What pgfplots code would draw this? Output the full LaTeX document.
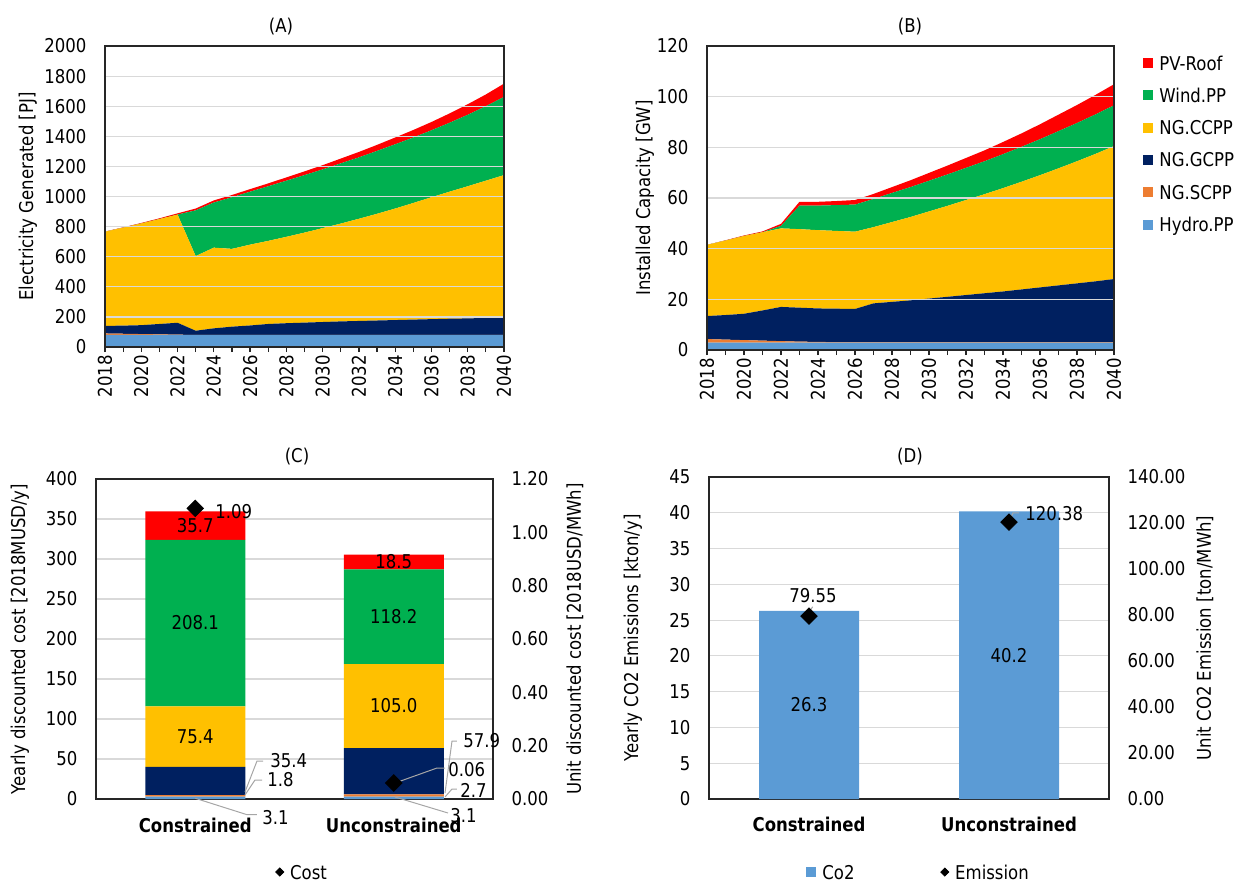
\documentclass[border=0pt]{standalone}
\usepackage{fontspec}
\setmainfont{DejaVu Sans}[FakeStretch=0.87]
\usepackage{pgfplots}
\usepackage{pgfplotstable}
\pgfplotsset{compat=1.18}
\definecolor{hydro}{HTML}{5B9BD5}
\definecolor{scpp}{HTML}{ED7D31}
\definecolor{gcpp}{HTML}{002060}
\definecolor{ccpp}{HTML}{FFC000}
\definecolor{wind}{HTML}{00B050}
\definecolor{pv}{HTML}{FF0000}
\definecolor{gridc}{HTML}{D9D9D9}
\definecolor{leaderc}{HTML}{A6A6A6}
\newcommand\fsz{\fontsize{9.5pt}{11pt}\selectfont}

\pgfplotstableread{
year hydro scpp gcpp ccpp wind pv
2018 80 10 50 626 0 1
2019 80 8 54 651 0 2
2020 80 6 59 676 0 3
2021 80 4 69 697 0 5
2022 80 2 79 719 0 8
2023 80 0 28 496 304 12
2024 80 0 44 536 300 14
2025 80 0 55 517 343 15
2026 80 0 63 537 352 17
2027 80 0 73 552 363 19
2028 80 0 78 574 373 22
2029 80 0 82 598 382 25
2030 80 0 86 624 390 28
2031 80 0 90 650 400 32
2032 80 0 93 679 408 36
2033 80 0 96 709 418 40
2034 80 0 99 741 427 45
2035 80 0 102 775 435 50
2036 80 0 105 810 445 55
2037 80 0 108 844 458 62
2038 80 0 110 878 475 70
2039 80 0 113 912 495 78
2040 80 0 115 947 520 88
}\dataA

\pgfplotstableread{
year hydro scpp gcpp ccpp wind pv
2018 2.9 1.4 9.1 28.1 0 0
2019 2.9 1.2 9.7 29.4 0 0.1
2020 2.9 1.0 10.4 30.7 0 0.2
2021 2.9 0.8 11.9 30.9 0 0.3
2022 2.9 0.6 13.5 31.0 1.0 0.8
2023 2.9 0.4 13.4 31.0 9.3 1.5
2024 2.9 0.3 13.2 30.9 9.7 1.5
2025 2.9 0.2 13.2 30.7 10.2 1.6
2026 2.9 0.2 13.1 30.5 10.7 1.8
2027 2.9 0.2 15.3 30.1 11.1 2.0
2028 2.9 0.2 15.9 31.5 11.5 2.3
2029 2.9 0.2 16.5 32.9 11.8 2.7
2030 2.9 0.2 17.2 34.4 12.1 3.1
2031 2.9 0.2 17.9 35.9 12.4 3.5
2032 2.9 0.2 18.6 37.5 12.7 3.9
2033 2.9 0.2 19.3 39.1 13.0 4.3
2034 2.9 0.2 20.0 40.8 13.4 4.8
2035 2.9 0.2 20.8 42.5 13.8 5.3
2036 2.9 0.2 21.6 44.3 14.2 5.9
2037 2.9 0.2 22.4 46.2 14.7 6.5
2038 2.9 0.2 23.2 48.2 15.1 7.1
2039 2.9 0.2 24.0 50.3 15.6 7.7
2040 2.9 0.2 24.9 52.5 16.1 8.3
}\dataB

\tikzset{
  lbl/.style={font=\fsz, inner sep=0pt},
  leader/.style={draw=leaderc, line width=0.5pt},
}
\pgfplotsset{
  base/.style={
    scale only axis, anchor=south west,
    axis line style={black!85, line width=0.7pt},
    tick style={black!85, line width=0.6pt},
    tick align=outside,
    major tick length=2.5pt, minor tick length=2.5pt,
    ymajorgrids, grid style={gridc, line width=0.6pt},
    ytick style={draw=none},
    tick label style={font=\fsz},
    /pgf/number format/assume math mode=true,
    /pgf/number format/1000 sep={},
    xtick pos=bottom, ytick pos=left,
    clip=false,
  },
  years/.style={
    xmin=2018, xmax=2040, xtick={2018,2020,...,2040}, minor xtick={2019,2021,...,2039},
    x tick label style={rotate=90, anchor=east, inner sep=1.5pt},
    stack plots=y, area style, enlarge x limits=false,
  },
  sqleg/.style={legend image code/.code={\fill[##1] (0pt,-2.5pt) rectangle (5pt,2.5pt);}},
  dmleg/.style={legend image code/.code={\fill[black] (0pt,0pt) -- (2pt,2pt) -- (4pt,0pt) -- (2pt,-2pt) -- cycle;}},
  botleg/.style={legend style={draw=none, fill=none, at={(0,0)}, anchor=west, xshift=#1, yshift=-36.5pt,
      inner sep=0pt, nodes={inner sep=0pt, text height=7pt, text depth=0pt, font=\fsz},
      /tikz/every odd column/.append style={column sep=3pt}}},
}

\begin{document}
\begin{tikzpicture}
\path[use as bounding box] (0,0) rectangle (618.5pt,-441pt);
\node[font=\fsz] at (140.5pt,-13.5pt) {(A)};
\node[font=\fsz] at (455pt,-13.5pt) {(B)};
\node[font=\fsz] at (148.5pt,-228.5pt) {(C)};
\node[font=\fsz] at (455pt,-228.5pt) {(D)};
\node[rotate=90,font=\fsz] at (14pt,-98.25pt) {Electricity Generated [PJ]};
\node[rotate=90,font=\fsz] at (322.5pt,-99pt) {Installed Capacity [GW]};
\node[rotate=90,font=\fsz] at (10pt,-319.5pt) {Yearly discounted cost [2018MUSD/y]};
\node[rotate=90,font=\fsz] at (287.5pt,-319.5pt) {Unit discounted cost [2018USD/MWh]};
\node[rotate=90,font=\fsz] at (316.5pt,-319pt) {Yearly CO2 Emissions [kton/y]};
\node[rotate=90,font=\fsz] at (602.5pt,-319pt) {Unit CO2 Emission [ton/MWh]};

% ---------- (A)
\begin{axis}[base, years, at={(52.5pt,-173.5pt)}, width=199.5pt, height=150.5pt,
  ymin=0, ymax=2000, ytick={0,200,...,2000}, yticklabel style={xshift=-3.3pt}]
\addplot[fill=hydro,draw=none] table[x=year,y=hydro]{\dataA} \closedcycle;
\addplot[fill=scpp,draw=none] table[x=year,y=scpp]{\dataA} \closedcycle;
\addplot[fill=gcpp,draw=none] table[x=year,y=gcpp]{\dataA} \closedcycle;
\addplot[fill=ccpp,draw=none] table[x=year,y=ccpp]{\dataA} \closedcycle;
\addplot[fill=wind,draw=none] table[x=year,y=wind]{\dataA} \closedcycle;
\addplot[fill=pv,draw=none] table[x=year,y=pv]{\dataA} \closedcycle;
\end{axis}

% ---------- (B)
\begin{axis}[base, years, sqleg, at={(353.5pt,-175pt)}, width=203.5pt, height=152pt,
  ymin=0, ymax=120, ytick={0,20,...,120}, yticklabel style={xshift=-3.3pt},
  reverse legend, legend cell align=left,
  legend style={draw=none, fill=none, at={(1,1)}, anchor=north west, xshift=14.5pt, yshift=-4.85pt,
    row sep=9.15pt, inner sep=0pt, nodes={inner sep=0pt, text height=7pt, text depth=0pt, font=\fsz},
    /tikz/every odd column/.append style={column sep=3pt}}]
\addplot[fill=hydro,draw=none] table[x=year,y=hydro]{\dataB} \closedcycle;
\addlegendentry{Hydro.PP}
\addplot[fill=scpp,draw=none] table[x=year,y=scpp]{\dataB} \closedcycle;
\addlegendentry{NG.SCPP}
\addplot[fill=gcpp,draw=none] table[x=year,y=gcpp]{\dataB} \closedcycle;
\addlegendentry{NG.GCPP}
\addplot[fill=ccpp,draw=none] table[x=year,y=ccpp]{\dataB} \closedcycle;
\addlegendentry{NG.CCPP}
\addplot[fill=wind,draw=none] table[x=year,y=wind]{\dataB} \closedcycle;
\addlegendentry{Wind.PP}
\addplot[fill=pv,draw=none] table[x=year,y=pv]{\dataB} \closedcycle;
\addlegendentry{PV-Roof}
\end{axis}

% ---------- (C) left
\begin{axis}[base, at={(48pt,-399.5pt)}, width=198.5pt, height=160pt,
  ybar stacked, bar width=50pt, xmin=-0.5, xmax=1.5,
  xtick={0,1}, xticklabels={\textbf{Constrained},\textbf{Unconstrained}},
  xtick style={draw=none}, x tick label style={yshift=-3.5pt},
  ymin=0, ymax=400, ytick={0,50,...,400}, yticklabel style={xshift=-3.3pt}]
\addplot[fill=hydro,draw=none] coordinates {(0,3.1) (1,3.1)};
\addplot[fill=scpp,draw=none] coordinates {(0,1.8) (1,2.7)};
\addplot[fill=gcpp,draw=none] coordinates {(0,35.4) (1,57.9)};
\addplot[fill=ccpp,draw=none] coordinates {(0,75.4) (1,105.0)};
\addplot[fill=wind,draw=none] coordinates {(0,208.1) (1,118.2)};
\addplot[fill=pv,draw=none] coordinates {(0,35.7) (1,18.5)};
\end{axis}

% ---------- (C) right
\begin{axis}[base, dmleg, botleg=89.5pt, at={(48pt,-399.5pt)}, width=198.5pt, height=160pt,
  xmin=-0.5, xmax=1.5, ymin=0, ymax=1.2, ytick={0,0.2,0.4,0.6,0.8,1.0,1.2},
  ymajorgrids=false, hide x axis, axis y line*=right, ytick pos=right,
  yticklabel style={xshift=3.3pt, /pgf/number format/.cd, fixed, fixed zerofill, precision=2}]
\node[lbl] at (axis cs:0,1.0254) {35.7};
\node[lbl] at (axis cs:0,0.6606) {208.1};
\node[lbl] at (axis cs:0,0.234) {75.4};
\node[lbl] at (axis cs:1,0.8889) {18.5};
\node[lbl] at (axis cs:1,0.6834) {118.2};
\node[lbl] at (axis cs:1,0.3486) {105.0};
\node[lbl,anchor=west] at (axis cs:0.0995,1.07625) {1.09};
\draw[leader] (axis cs:0.2506,0.02625) -- (axis cs:0.311,0.1425) -- (axis cs:0.3413,0.1425);
\node[lbl,anchor=west] at (axis cs:0.3766,0.1425) {35.4};
\draw[leader] (axis cs:0.2506,0.015) -- (axis cs:0.301,0.07125) -- (axis cs:0.3363,0.07125);
\node[lbl,anchor=west] at (axis cs:0.3615,0.07125) {1.8};
\draw[leader] (axis cs:0,0.0027) -- (axis cs:0.2607,-0.0588) -- (axis cs:0.311,-0.0588);
\node[lbl,anchor=west] at (axis cs:0.3363,-0.07125) {3.1};
\draw[leader] (axis cs:1.2582,0.0225) -- (axis cs:1.2935,0.2175) -- (axis cs:1.3186,0.2175);
\node[lbl,anchor=west] at (axis cs:1.3489,0.2175) {57.9};
\draw[leader] (axis cs:1.0063,0.06) -- (axis cs:1.2179,0.11625) -- (axis cs:1.2582,0.11625);
\node[lbl,anchor=west] at (axis cs:1.2733,0.10875) {0.06};
\draw[leader] (axis cs:1.2582,0.0075) -- (axis cs:1.2935,0.0375) -- (axis cs:1.3186,0.0375);
\node[lbl,anchor=west] at (axis cs:1.3338,0.03375) {2.7};
\draw[leader] (axis cs:1.0063,0.0075) -- (axis cs:1.2733,-0.0525);
\node[lbl,anchor=west] at (axis cs:1.2834,-0.06375) {3.1};
\addplot[only marks, mark=square*, mark size=2.9pt, mark options={rotate=45, fill=black, draw=black}]
  coordinates {(0,1.09) (1,0.06)};
\addlegendentry{Cost}
\end{axis}

% ---------- (D) left
\begin{axis}[base, botleg=48.5pt, at={(354.5pt,-399.5pt)}, width=200pt, height=161pt,
  ybar, bar width=50pt, xmin=-0.5, xmax=1.5,
  xtick={0,1}, xticklabels={\textbf{Constrained},\textbf{Unconstrained}},
  xtick style={draw=none}, x tick label style={yshift=-3pt},
  ymin=0, ymax=45, ytick={0,5,...,45}, yticklabel style={xshift=-3.3pt}]
\addplot[fill=hydro,draw=none,
  legend image code/.code={\fill[hydro] (0pt,-2.5pt) rectangle (5pt,2.5pt);}]
  coordinates {(0,26.3) (1,40.2)};
\addlegendentry{Co2}
\node[lbl] at (axis cs:0,13.15) {26.3};
\node[lbl] at (axis cs:1,20.1) {40.2};
\draw[leader] (axis cs:0.0015,26.17) -- (axis cs:0.0185,26.87);
\node[lbl] at (axis cs:0.02,28.37) {79.55};
\draw[leader] (axis cs:1.005,38.99) -- (axis cs:1.02,39.97) -- (axis cs:1.05,39.97);
\node[lbl,anchor=west] at (axis cs:1.08,39.83) {120.38};
\end{axis}

% ---------- (D) right
\begin{axis}[base, dmleg, botleg=115.5pt, at={(354.5pt,-399.5pt)}, width=200pt, height=161pt,
  xmin=-0.5, xmax=1.5, ymin=0, ymax=140, ytick={0,20,...,140},
  ymajorgrids=false, hide x axis, axis y line*=right, ytick pos=right,
  yticklabel style={xshift=3.3pt, /pgf/number format/.cd, fixed, fixed zerofill, precision=2}]
\addplot[only marks, mark=square*, mark size=2.9pt, mark options={rotate=45, fill=black, draw=black}]
  coordinates {(0,79.55) (1,120.38)};
\addlegendentry{Emission}
\end{axis}
\end{tikzpicture}
\end{document}
